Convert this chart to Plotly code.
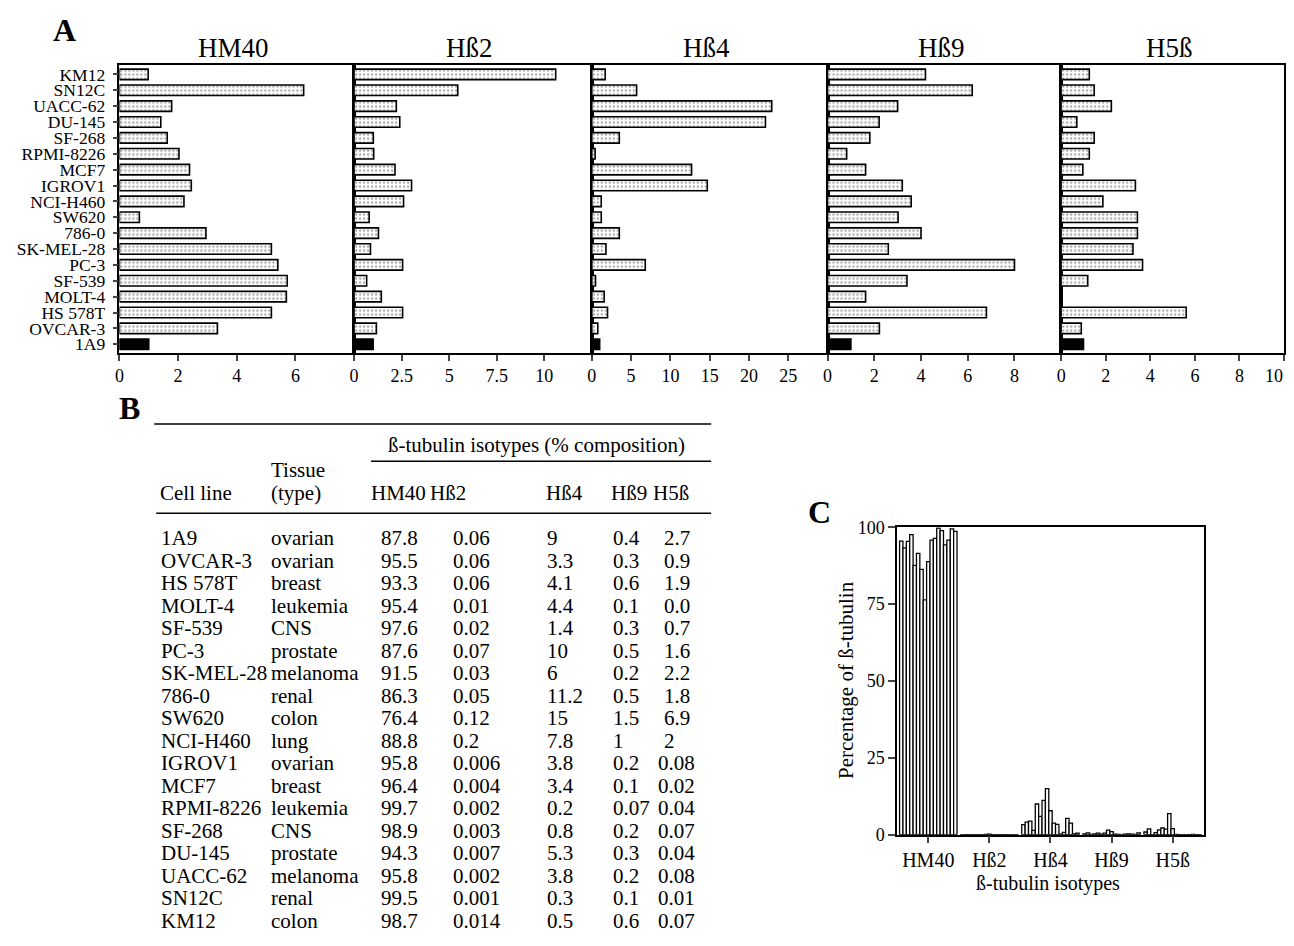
import plotly.graph_objects as go

# Page placement: the body adds an 8px margin; vertical placement calibrated from earlier renders.
OFF_X = 8
FW, FH = 1294 - 2 * OFF_X, 930
VS, VOFF = 0.977, 18.5

cell_lines = ["1A9", "OVCAR-3", "HS 578T", "MOLT-4", "SF-539", "PC-3", "SK-MEL-28", "786-0",
              "SW620", "NCI-H460", "IGROV1", "MCF7", "RPMI-8226", "SF-268", "DU-145", "UACC-62",
              "SN12C", "KM12"]
tissues = ["ovarian", "ovarian", "breast", "leukemia", "CNS", "prostate", "melanoma", "renal",
           "colon", "lung", "ovarian", "breast", "leukemia", "CNS", "prostate", "melanoma",
           "renal", "colon"]
isotypes = ["HM40", "Hß2", "Hß4", "Hß9", "H5ß"]

# Panel A: relative levels (1A9 = 1), same order as cell_lines
relA_HM40 = [1.0, 3.34, 5.18, 5.69, 5.72, 5.4, 5.18, 2.95, 0.68, 2.2, 2.45, 2.39, 2.03, 1.63, 1.41, 1.78, 6.28, 0.98]
relA_Hb2 = [1.0, 1.17, 2.55, 1.43, 0.66, 2.55, 0.86, 1.28, 0.79, 2.6, 3.02, 2.15, 1.03, 1.01, 2.4, 2.22, 5.45, 10.6]
relA_Hb4 = [1.0, 0.76, 2.0, 1.57, 0.47, 6.8, 1.8, 3.5, 1.2, 1.2, 14.7, 12.7, 0.42, 3.5, 22.1, 22.9, 5.7, 1.7]
relA_Hb9 = [1.0, 2.22, 6.8, 1.63, 3.4, 8.0, 2.6, 4.0, 3.02, 3.58, 3.2, 1.63, 0.82, 1.81, 2.21, 3.0, 6.19, 4.19]
relA_H5b = [1.0, 0.9, 5.61, 0.0, 1.19, 3.65, 3.22, 3.42, 3.42, 1.87, 3.33, 0.97, 1.26, 1.48, 0.7, 2.25, 1.48, 1.26]

# Panel B table (% composition)
pct_HM40 = ["87.8", "95.5", "93.3", "95.4", "97.6", "87.6", "91.5", "86.3", "76.4", "88.8", "95.8", "96.4", "99.7", "98.9", "94.3", "95.8", "99.5", "98.7"]
pct_Hb2 = ["0.06", "0.06", "0.06", "0.01", "0.02", "0.07", "0.03", "0.05", "0.12", "0.2", "0.006", "0.004", "0.002", "0.003", "0.007", "0.002", "0.001", "0.014"]
pct_Hb4 = ["9", "3.3", "4.1", "4.4", "1.4", "10", "6", "11.2", "15", "7.8", "3.8", "3.4", "0.2", "0.8", "5.3", "3.8", "0.3", "0.5"]
pct_Hb9 = ["0.4", "0.3", "0.6", "0.1", "0.3", "0.5", "0.2", "0.5", "1.5", "1", "0.2", "0.1", "0.07", "0.2", "0.3", "0.2", "0.1", "0.6"]
pct_H5b = ["2.7", "0.9", "1.9", "0.0", "0.7", "1.6", "2.2", "1.8", "6.9", "2", "0.08", "0.02", "0.04", "0.07", "0.04", "0.08", "0.01", "0.07"]

A_ranges = [[0, 8], [0, 12.5], [0, 30], [0, 10], [0, 10]]
A_ticks = [[0, 2, 4, 6], [0, 2.5, 5, 7.5, 10], [0, 5, 10, 15, 20, 25], [0, 2, 4, 6, 8], [0, 2, 4, 6, 8, 10]]
A_vals = [relA_HM40, relA_Hb2, relA_Hb4, relA_Hb9, relA_H5b]

SERIF = "Liberation Serif, Times New Roman, serif"


def px(x):
    return min(max((x - OFF_X) / FW, 0), 1)


def py(y):
    f = (y - VOFF) / VS
    return min(max(1 - f / FH, 0), 1)


fig = go.Figure()
layout = dict(width=FW, height=FH, margin=dict(l=0, r=0, t=0, b=0),
              paper_bgcolor="white", plot_bgcolor="white", showlegend=False,
              barmode="group", bargap=0.06, bargroupgap=0,
              font=dict(family=SERIF, color="black"))

A_edges = [115, 351, 590, 827, 1062, 1286]
A_top, A_bot = 65, 353
annotations = []
shapes = []

for i in range(5):
    n = "" if i == 0 else str(i + 1)
    fig.add_trace(go.Bar(
        x=A_vals[i], y=cell_lines, orientation="h",
        xaxis="x" + n, yaxis="y" + n, width=0.66,
        marker=dict(color=["black"] + ["white"] * 17,
                    pattern=dict(shape=[""] + ["."] * 17, fgcolor="black", size=4, solidity=0.25),
                    line=dict(color="black", width=1.6)),
        hoverinfo="x+y"))
    layout["xaxis" + n] = dict(domain=[px(A_edges[i]), px(A_edges[i + 1])], anchor="y" + n,
                               range=A_ranges[i], tickvals=A_ticks[i], ticks="outside",
                               ticklen=6, tickwidth=1.5, showgrid=False, zeroline=False,
                               showline=True, mirror=True, linewidth=1.5, linecolor="black",
                               tickfont=dict(size=18, family=SERIF))
    layout["yaxis" + n] = dict(domain=[py(A_bot), py(A_top)], anchor="x" + n,
                               type="category", categoryorder="array", categoryarray=cell_lines,
                               tickmode="array", tickvals=cell_lines, ticktext=cell_lines,
                               range=[-0.55, 17.62], showgrid=False, zeroline=False,
                               showline=True, mirror=True, linewidth=1.5, linecolor="black",
                               ticks="outside" if i == 0 else "", ticklen=5, tickwidth=1.5,
                               ticklabelstandoff=4,
                               showticklabels=(i == 0), tickfont=dict(size=17.5, family=SERIF))
    annotations.append(dict(x=px((A_edges[i] + A_edges[i + 1]) / 2 - 3), y=py(48), xref="paper", yref="paper",
                            text=isotypes[i], showarrow=False, font=dict(size=27, family=SERIF),
                            xanchor="center", yanchor="middle"))

# last tick label of the H5ß axis sits on the figure edge: draw it right-aligned there
annotations.append(dict(x=1, y=py(376), xref="x5 domain", yref="paper", text=str(A_ticks[4][-1]),
                        showarrow=False, font=dict(size=18, family=SERIF),
                        xanchor="right", yanchor="middle", borderpad=0))

# Panel C
C_left, C_right, C_top, C_bot = 897, 1206, 527, 834
pct_lists = [pct_HM40, pct_Hb2, pct_Hb4, pct_Hb9, pct_H5b]
for k in range(1, len(cell_lines)):
    fig.add_trace(go.Bar(
        x=isotypes, y=[float(p[k]) for p in pct_lists], name=cell_lines[k],
        xaxis="x6", yaxis="y6",
        marker=dict(color="white", line=dict(color="black", width=1.3))))
layout["xaxis6"] = dict(domain=[px(C_left), px(C_right)], anchor="y6", type="category",
                        range=[-0.51, 4.52], ticks="outside", ticklen=7, tickwidth=1.5,
                        showline=True, mirror=True, linewidth=1.5, linecolor="black",
                        showgrid=False, zeroline=False, tickfont=dict(size=20, family=SERIF))
layout["yaxis6"] = dict(domain=[py(C_bot), py(C_top)], anchor="x6", range=[0, 100],
                        tickvals=[0, 25, 50, 75, 100], ticks="outside", ticklen=7, tickwidth=1.5,
                        showline=True, mirror=True, linewidth=1.5, linecolor="black",
                        showgrid=False, zeroline=False, tickfont=dict(size=18, family=SERIF))
annotations.append(dict(x=px(845), y=py(679), xref="paper", yref="paper", text="Percentage of ß-tubulin",
                        textangle=-90, showarrow=False, font=dict(size=21, family=SERIF),
                        xanchor="center", yanchor="middle"))
annotations.append(dict(x=px(1049), y=py(883), xref="paper", yref="paper", text="ß-tubulin isotypes",
                        showarrow=False, font=dict(size=20, family=SERIF),
                        xanchor="center", yanchor="middle"))

# Panel labels
for lab, xx, yy in [("A", 60, 30), ("B", 125, 408), ("C", 819, 512)]:
    annotations.append(dict(x=px(xx), y=py(yy), xref="paper", yref="paper", text="<b>%s</b>" % lab,
                            showarrow=False, font=dict(size=32, family=SERIF),
                            xanchor="center", yanchor="middle"))

# Panel B table
TF = dict(size=21, family=SERIF)


def txt(s, x, y, anchor="left"):
    annotations.append(dict(x=px(x - 6), y=py(y), xref="paper", yref="paper", text=s, showarrow=False,
                            font=TF, xanchor=anchor, yanchor="middle"))


txt("ß-tubulin isotypes (% composition)", 540, 445, "center")
txt("Tissue", 271, 470)
txt("Cell line", 160, 493)
txt("(type)", 271, 493)
for h, xh in zip(isotypes, [372, 431, 548, 613, 656]):
    txt(h, xh, 493)

col_x = [382, 454, 549, 615, None]
for r in range(len(cell_lines)):
    yy = 538 + r * 22.45
    txt(cell_lines[r], 161, yy)
    txt(tissues[r], 271, yy)
    for c, p in enumerate(pct_lists):
        s = p[r]
        if c == 4:
            xx = 661 if len(s) >= 4 else 667
        else:
            xx = col_x[c]
        txt(s, xx, yy)

for x0, x1, yy in [(150, 710, 424), (368, 710, 461), (152, 710, 513)]:
    shapes.append(dict(type="line", xref="paper", yref="paper", x0=px(x0), x1=px(x1),
                       y0=py(yy), y1=py(yy), line=dict(color="black", width=1.5)))

layout["annotations"] = annotations
layout["shapes"] = shapes
fig.update_layout(**layout)
fig.write_html("out.html")
